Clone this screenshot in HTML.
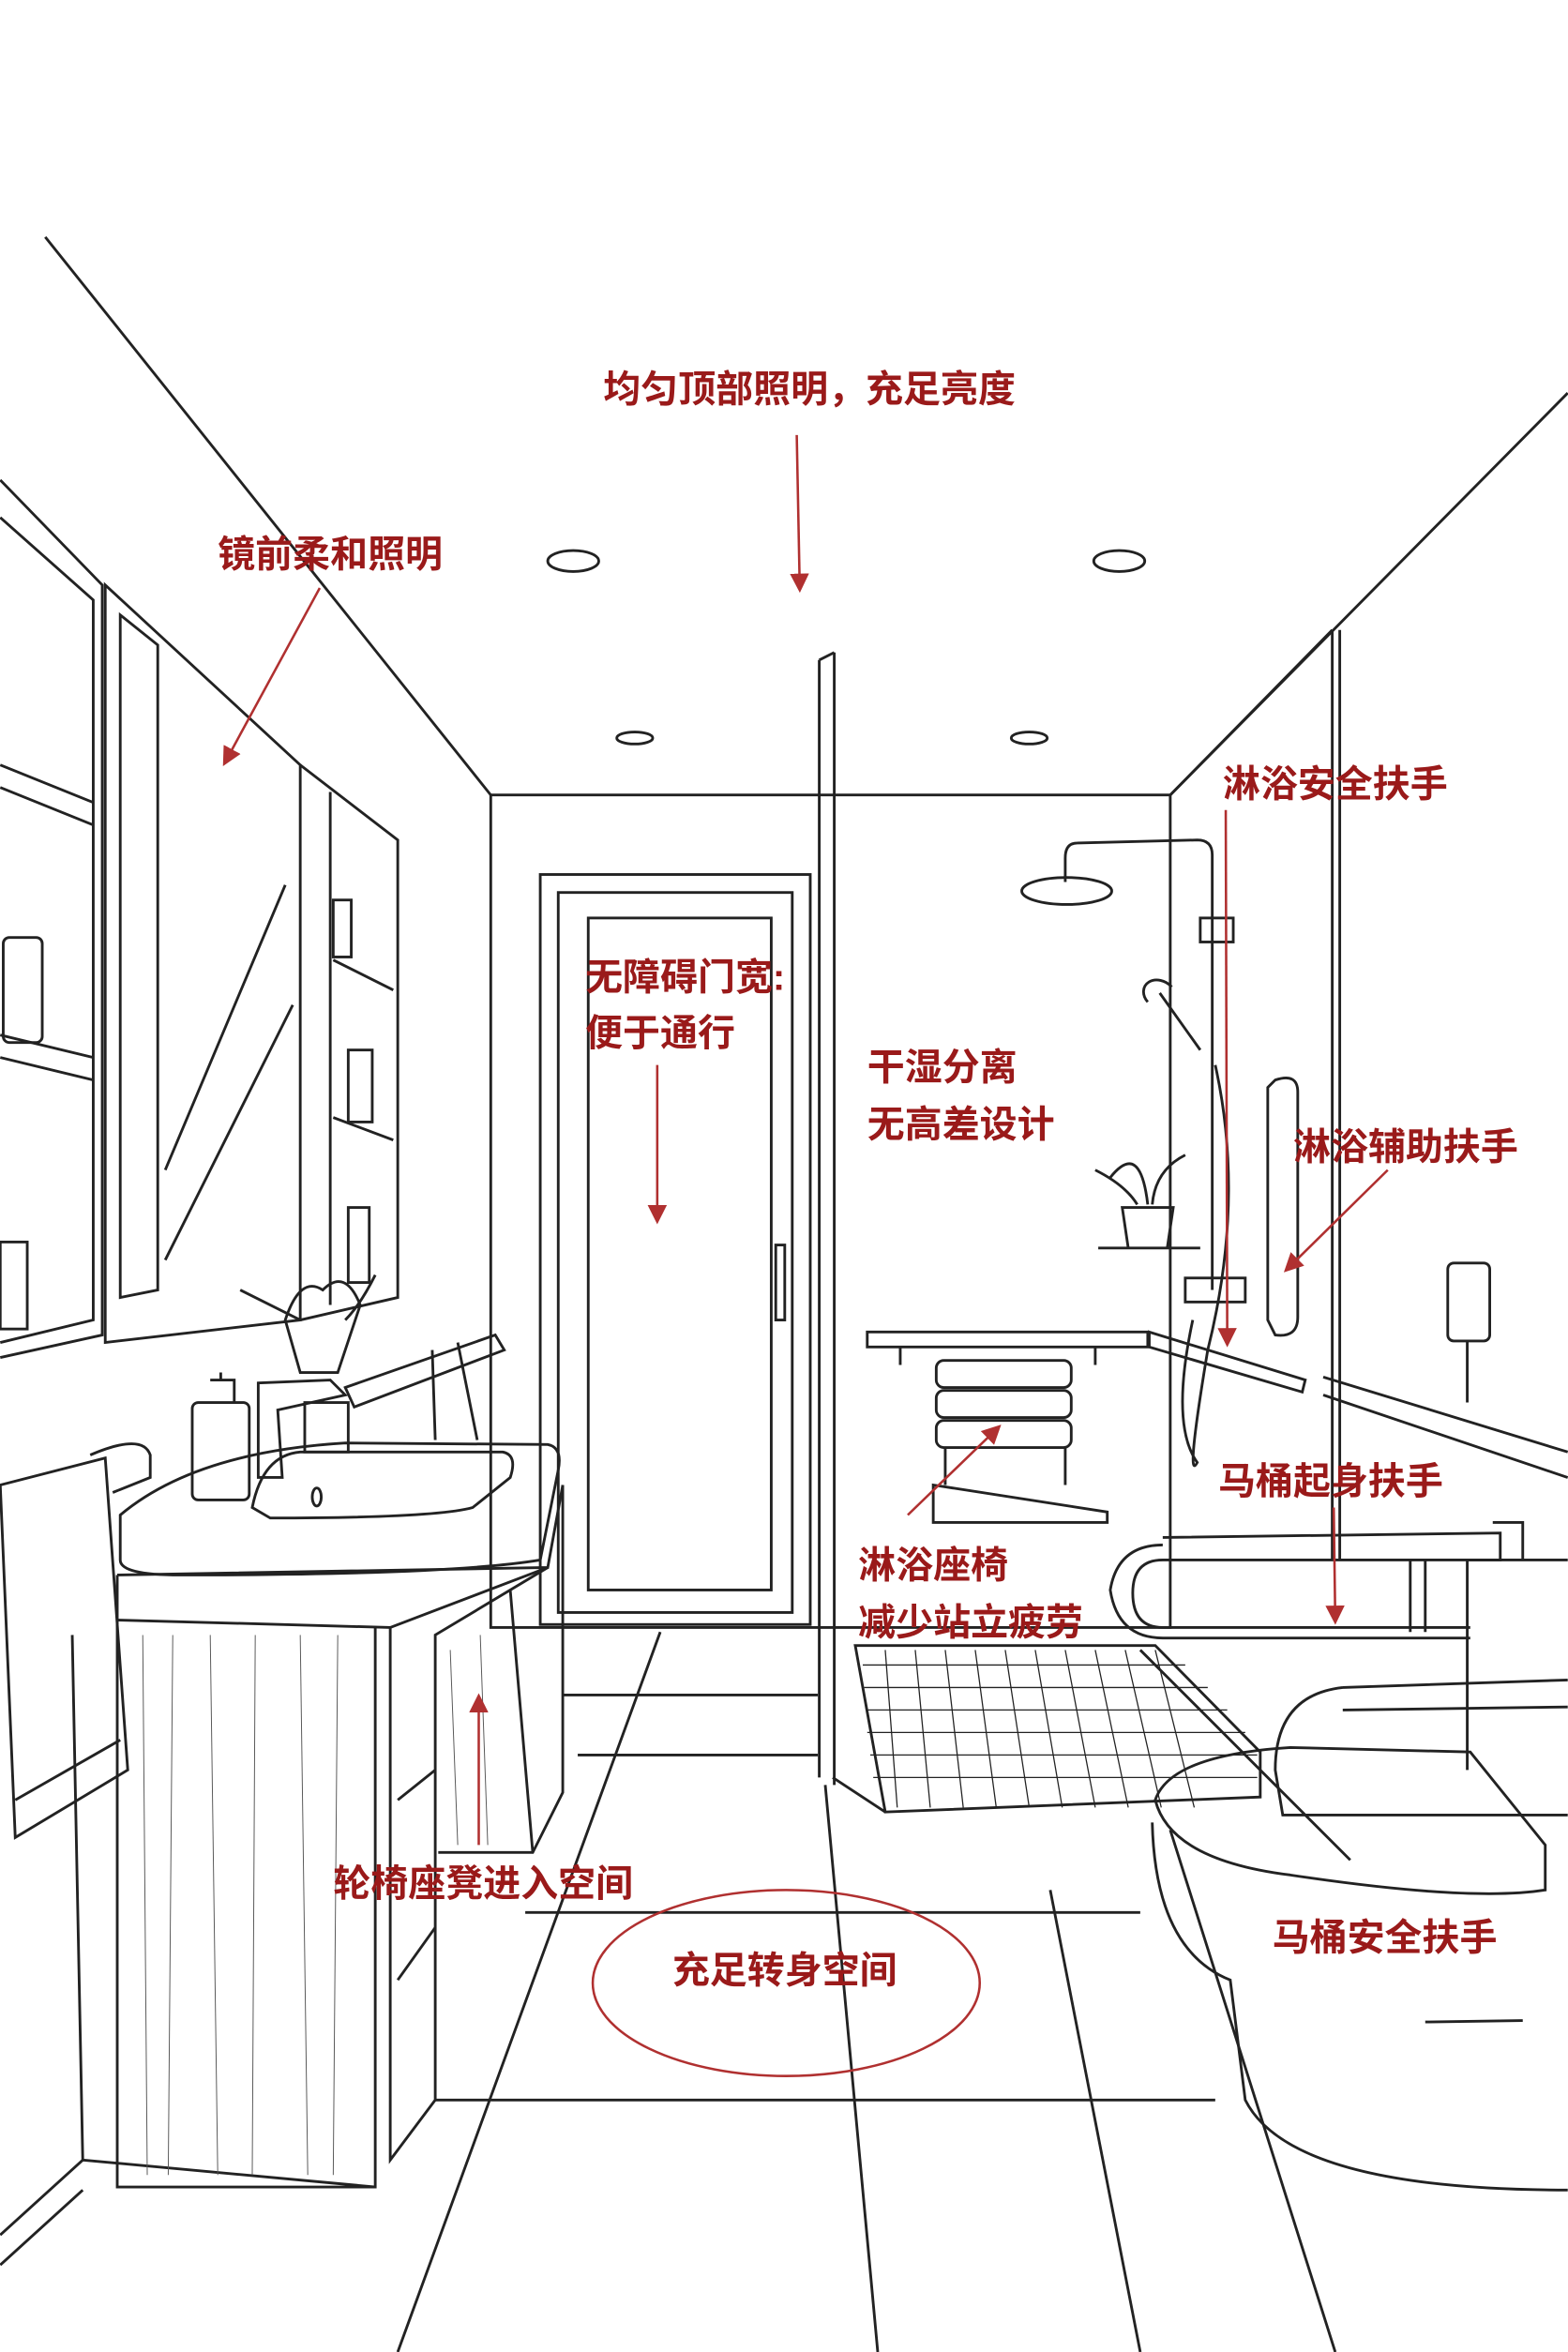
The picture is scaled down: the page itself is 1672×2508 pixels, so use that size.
<!DOCTYPE html>
<html><head><meta charset="utf-8"><style>
html,body{margin:0;padding:0;background:#fff}
svg{display:block}
text{font-family:"Liberation Sans","Noto Sans CJK SC",sans-serif;font-weight:bold;fill:#9a1a1a;font-size:25px}
</style></head><body>
<svg width="1672" height="2508" viewBox="0 0 1045 1568" xmlns="http://www.w3.org/2000/svg">
<defs><marker id="a" markerWidth="8" markerHeight="8" refX="6" refY="4" orient="auto"><path d="M0,0 L8,4 L0,8 z" fill="#b03030"/></marker></defs>
<g fill="none" stroke="#222" stroke-width="1.8">
<path d="M30,158 L327,530 L780,530 L1045,262"/>
<ellipse cx="382" cy="374" rx="17" ry="7"/><ellipse cx="746" cy="374" rx="17" ry="7"/>
<ellipse cx="423" cy="492" rx="12" ry="4"/><ellipse cx="686" cy="492" rx="12" ry="4"/>
<path d="M327,530 L327,1085 L780,1085 L780,530"/>
<rect x="360" y="583" width="180" height="500"/><rect x="372" y="595" width="156" height="480"/>
<rect x="392" y="612" width="122" height="448"/>
<rect x="517" y="830" width="6" height="50"/>
<path d="M546,440 L546,1185 M556,435 L556,1190 M546,440 L556,435"/>
<path d="M888,420 L888,1040 M893,420 L893,1040 M780,530 L888,420"/>
<path d="M440,1088 L265,1568 M550,1190 L585,1568 M700,1260 L760,1568 M375,1130 L545,1130 M385,1170 L545,1170 M290,1400 L810,1400 M350,1275 L760,1275 M780,1220 L890,1568"/>
<path d="M570,1097 L770,1097 L840,1168 L840,1198 L590,1208 Z"/>
<path d="M555,1185 L590,1208 M760,1100 L900,1240"/>
<g stroke-width="0.8">
<path d="M575,1110 L790,1110 M576,1125 L805,1125 M577,1140 L818,1140 M578,1155 L830,1155 M580,1170 L838,1170 M582,1185 L838,1185"/>
<path d="M590,1100 L598,1205 M610,1100 L620,1205 M630,1100 L642,1205 M650,1100 L664,1205 M670,1100 L686,1205 M690,1100 L708,1205 M710,1100 L730,1205 M730,1100 L752,1205 M750,1100 L774,1205 M770,1100 L796,1205"/>
</g>
<path d="M808,570 L808,860 M808,570 Q808,560 798,560 L718,562 Q710,562 710,572 L710,588"/>
<ellipse cx="711" cy="594" rx="30" ry="9"/>
<path d="M773,662 L800,700 M765,668 a10,8 30 1,1 16,-10"/>
<path d="M810,710 Q830,800 805,900 Q790,990 798,975 Q780,950 795,880"/>
<rect x="800" y="612" width="22" height="16"/><rect x="790" y="852" width="40" height="16"/>
<path d="M748,805 L782,805 L778,832 L752,832 Z M732,832 L800,832 M740,785 Q760,760 765,803 M790,770 Q770,780 768,803 M730,780 Q750,790 758,803"/>
<path d="M578,888 L765,888 L765,898 L578,898 Z M600,898 L600,910 M730,898 L730,910"/>
<rect x="624" y="907" width="90" height="18" rx="5"/><rect x="624" y="927" width="90" height="18" rx="5"/><rect x="624" y="947" width="90" height="18" rx="5"/>
<path d="M630,965 L630,990 M710,965 L710,990 M622,990 L738,1008 L738,1015 L622,1015 Z"/>
<path d="M850,720 Q865,715 865,728 L865,878 Q865,892 850,890 L845,880 L845,725 Z"/>
<path d="M766,888 L870,920 L868,928 L766,898 Z"/>
<path d="M882,918 L1045,968 M882,930 L1045,985"/>
<rect x="965" y="842" width="28" height="52" rx="4"/><path d="M978,894 L978,935"/>
<path d="M775,1025 L1000,1022 L1000,1040 L775,1040 Q755,1040 755,1062 Q755,1085 775,1085 L980,1085"/>
<path d="M775,1030 Q745,1030 740,1060 Q745,1092 775,1092 L980,1092"/>
<path d="M940,1040 L940,1088 M950,1040 L950,1088 M995,1015 L1015,1015 L1015,1040"/>
<path d="M978,1040 L1045,1040 M978,1040 L978,1180"/>
<path d="M895,1125 L1045,1120 M895,1140 L1045,1138 M895,1125 Q850,1130 850,1180 L855,1210 L1045,1210"/>
<path d="M770,1200 Q780,1170 860,1165 L980,1168 L1030,1230 L1030,1260 Q980,1268 860,1250 Q780,1240 770,1200 Z"/>
<path d="M768,1215 Q770,1300 820,1320 L830,1400 Q860,1460 1045,1460"/>
<path d="M950,1348 L1015,1347"/>
<path d="M0,320 L68,390 L68,890 L0,905"/>
<path d="M0,345 L62,400 L62,880 L0,895 M0,510 L62,535 M0,525 L62,550 M0,690 L62,705 M0,705 L62,720"/>
<rect x="2" y="625" width="26" height="70" rx="4"/><rect x="0" y="828" width="18" height="58"/>
<path d="M70,390 L200,510 L200,880 L70,895 Z M80,410 L105,430 L105,860 L80,865 Z"/>
<path d="M110,840 L195,670 M110,780 L190,590"/>
<path d="M200,510 L265,560 L265,865 L200,880 M220,528 L220,870 M222,640 L262,660 M222,745 L262,760"/>
<rect x="222" y="600" width="12" height="38"/><rect x="232" y="700" width="16" height="48"/><rect x="232" y="805" width="14" height="50"/>
<path d="M190,880 Q200,850 215,860 Q230,845 240,870 L225,915 L200,915 Z M160,860 Q180,870 200,880 M250,850 Q240,870 230,880"/>
<path d="M172,922 L220,920 L230,930 L185,940 L188,985 L172,985 Z M203,935 L232,935 L232,968 L203,968 Z"/>
<path d="M230,925 L330,890 L336,900 L236,938 Z M288,900 L290,960 M305,895 L318,960"/>
<rect x="128" y="935" width="38" height="65" rx="4"/><path d="M140,920 L156,920 L156,935 M147,920 L147,915"/>
<path d="M0,990 L70,972 L85,1180 L10,1225 Z M60,970 Q95,955 100,970 L100,985 L75,995"/>
<path d="M10,1200 L80,1160"/>
<path d="M80,1010 Q130,968 230,962 L365,963 Q375,965 372,980 L360,1040 Q300,1050 120,1050 Q80,1050 80,1040 Z"/>
<path d="M168,1005 Q175,970 200,968 L335,968 Q345,970 340,985 L315,1005 Q290,1012 180,1012 Z"/>
<ellipse cx="211" cy="998" rx="3" ry="6"/>
<path d="M78,1050 L365,1045 L375,990 M78,1050 L78,1080 L260,1085 L365,1045"/>
<path d="M78,1080 L78,1458 L250,1458 L250,1085 M48,1090 L55,1440 L250,1458"/>
<path d="M260,1085 L260,1440 L290,1400 L290,1090 L365,1045 M375,990 L375,1195 L355,1235 L292,1235 M340,1060 L355,1235"/>
<path d="M265,1200 L290,1180 M265,1320 L290,1285"/>
<path d="M0,1490 L55,1440 M0,1510 L55,1460"/>
</g>
<g stroke="#555" stroke-width="0.6" fill="none">
<path d="M95,1090 L98,1450 M115,1090 L112,1450 M140,1090 L145,1450 M170,1090 L168,1450 M200,1090 L205,1450 M225,1090 L222,1450 M300,1100 L305,1230 M320,1090 L325,1230"/>
</g>
<g stroke="#b03030" stroke-width="1.6" fill="none">
<path d="M531,290 L533,392" marker-end="url(#a)"/>
<path d="M213,392 L150,508" marker-end="url(#a)"/>
<path d="M438,710 L438,813" marker-end="url(#a)"/>
<path d="M817,540 L818,895" marker-end="url(#a)"/>
<path d="M925,780 L858,846" marker-end="url(#a)"/>
<path d="M605,1010 L665,952" marker-end="url(#a)"/>
<path d="M889,1005 L890,1080" marker-end="url(#a)"/>
<path d="M319,1230 L319,1132" marker-end="url(#a)"/>
<ellipse cx="524" cy="1322" rx="129" ry="62"/>
</g>
<text x="402" y="268">均匀顶部照明，充足亮度</text>
<text x="145" y="378">镜前柔和照明</text>
<text x="390" y="660">无障碍门宽:</text>
<text x="390" y="697">便于通行</text>
<text x="578" y="720">干湿分离</text>
<text x="578" y="758">无高差设计</text>
<text x="815" y="531">淋浴安全扶手</text>
<text x="862" y="773">淋浴辅助扶手</text>
<text x="812" y="996">马桶起身扶手</text>
<text x="572" y="1052">淋浴座椅</text>
<text x="572" y="1090">减少站立疲劳</text>
<text x="222" y="1264">轮椅座凳进入空间</text>
<text x="448" y="1322">充足转身空间</text>
<text x="848" y="1300">马桶安全扶手</text>
</svg>
</body></html>
